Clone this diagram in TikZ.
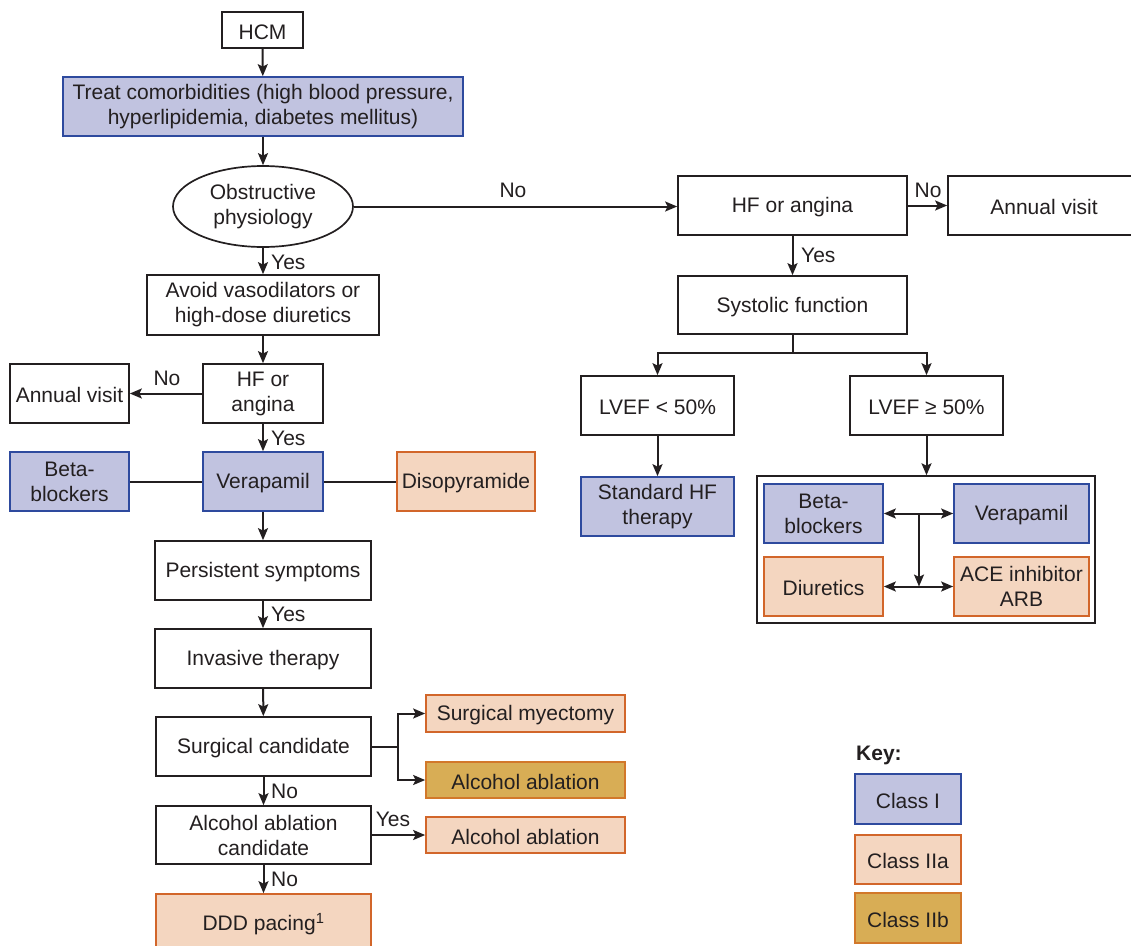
\documentclass[tikz,border=0pt]{standalone}
\usepackage{fontspec}
\setmainfont{Liberation Sans}
\usetikzlibrary{arrows.meta,shapes.geometric}

\definecolor{ink}{HTML}{231F20}
\definecolor{cIfill}{HTML}{C1C3E0}
\definecolor{cIline}{HTML}{2E4A9E}
\definecolor{cIIafill}{HTML}{F4D6C0}
\definecolor{cIIaline}{HTML}{D2662A}
\definecolor{cIIbfill}{HTML}{D8AD55}
\definecolor{cIIbline}{HTML}{D2782A}

\tikzset{
  every node/.style={font=\fontsize{21}{25}\selectfont, text=ink},
  wh/.style 2 args={minimum width=#1, minimum height=#2},
  box/.style={draw=ink, line width=1.7pt, fill=white, align=center, inner sep=0pt,
              execute at begin node={\rule{0pt}{19pt}}},
  classI/.style={box, fill=cIfill, draw=cIline},
  classIIa/.style={box, fill=cIIafill, draw=cIIaline},
  classIIb/.style={box, fill=cIIbfill, draw=cIIbline},
  oval/.style={box, ellipse},
  tip/.tip={Stealth[length=12pt,width=10pt,inset=2.5pt]},
  conn/.style={draw=ink, line width=2pt},
  arr/.style={conn, -tip},
  darr/.style={conn, tip-tip},
  lbl/.style={inner sep=0pt},
}

\begin{document}
\begin{tikzpicture}[x=1pt, y=-1pt]
\useasboundingbox (0,0) rectangle (1131,945);

% ---- left column: main pathway ----
\node[box, wh={81}{36}]    (hcm)   at (262.5,30)  {HCM};
\node[classI, wh={400}{59}] (treat) at (263,106.5) {Treat comorbidities (high blood pressure,\\hyperlipidemia, diabetes mellitus)};
\node[oval, wh={180}{81}]  (obs)   at (263,206.5) {Obstructive\\physiology};
\node[box, wh={232}{60}]   (avoid) at (263,305)   {Avoid vasodilators or\\high-dose diuretics};
\node[box, wh={120}{59}]   (hfl)   at (263,393.5) {HF or\\angina};
\node[box, wh={119}{59}]   (annl)  at (69.5,393.5) {Annual visit};
\node[classI, wh={119}{59}] (betal) at (69.5,481.5) {Beta-\\blockers};
\node[classI, wh={120}{59}] (veral) at (263,481.5) {Verapamil};
\node[classIIa, wh={138}{59}] (diso) at (466,481.5) {Disopyramide};
\node[box, wh={216}{59}]   (pers)  at (263,570.5) {Persistent symptoms};
\node[box, wh={216}{59}]   (inv)   at (263,658.5) {Invasive therapy};
\node[box, wh={215}{59}]   (surg)  at (263.5,746.5) {Surgical candidate};
\node[box, wh={215}{58}]   (alcc)  at (263.5,835) {Alcohol ablation\\candidate};
\node[classIIa, wh={215}{59}] (ddd) at (263.5,923.5) {DDD pacing\textsuperscript{1}};
\node[classIIa, wh={199}{37}] (myec) at (525.5,713.5) {Surgical myectomy};
\node[classIIb, wh={199}{36}] (alcb) at (525.5,780) {Alcohol ablation};
\node[classIIa, wh={199}{36}] (alca) at (525.5,835) {Alcohol ablation};

% ---- right column: non-obstructive pathway ----
\node[box, wh={229}{59}]   (hfr)   at (792.5,205.5) {HF or angina};
\node[box, wh={192}{59}]   (annr)  at (1044,205.5) {Annual visit};
\node[box, wh={229}{58}]   (sys)   at (792.5,305) {Systolic function};
\node[box, wh={153}{59}]   (lv1)   at (657.5,405.5) {LVEF < 50\%};
\node[box, wh={153}{59}]   (lv2)   at (926.5,405.5) {LVEF ≥ 50\%};
\node[classI, wh={153}{59}] (std)  at (657.5,506.5) {Standard HF\\therapy};
\node[box, wh={338}{147}, fill=none, line width=1.5pt] (grp) at (926,549.5) {};
\node[classI, wh={119}{59}] (bb)   at (823.5,513.5) {Beta-\\blockers};
\node[classI, wh={135}{59}] (vr)   at (1021.5,513.5) {Verapamil};
\node[classIIa, wh={119}{59}] (di) at (823.5,586.5) {Diuretics};
\node[classIIa, wh={135}{59}] (ace) at (1021.5,586.5) {ACE inhibitor\\ARB};

% ---- key ----
\node[lbl, anchor=west, font=\fontsize{21}{25}\selectfont\bfseries] (key) at (856,755) {Key:};
\node[classI, wh={106}{50}]   (k1) at (908,799)   {Class I};
\node[classIIa, wh={106}{49}] (k2) at (908,859.5) {Class IIa};
\node[classIIb, wh={106}{50}] (k3) at (908,918)   {Class IIb};

% ---- branch points ----
\coordinate (sb) at (398,746.5);
\coordinate (j1) at (919,513.5);
\coordinate (j2) at (919,586.5);

% ---- connectors, left column ----
\draw[arr] (hcm) -- (treat);
\draw[arr] (treat) -- (obs);
\draw[arr] (obs) -- (avoid);
\draw[arr] (obs.east) -- (obs.east -| hfr.west);
\draw[arr] (avoid) -- (hfl);
\draw[arr] (hfl) -- (annl);
\draw[arr] (hfl) -- (veral);
\draw[conn] (betal) -- (veral);
\draw[conn] (veral) -- (diso);
\draw[arr] (veral) -- (pers);
\draw[arr] (pers) -- (inv);
\draw[arr] (inv) -- (surg);
\draw[conn] (surg.east) -- (sb);
\draw[arr] (sb) |- (myec.west);
\draw[arr] (sb) |- (alcb.west);
\draw[arr] (surg) -- (alcc);
\draw[arr] (alcc.east) -- (alca.west);
\draw[arr] (alcc) -- (ddd);

% ---- connectors, right column ----
\draw[arr] (hfr) -- (annr);
\draw[arr] (hfr) -- (sys);
\draw[arr] (sys.south) -- ++(0,18) -| (lv1.north);
\draw[arr] (sys.south) -- ++(0,18) -| (lv2.north);
\draw[arr] (lv1) -- (std);
\draw[arr] (lv2.south) -- (lv2.south |- grp.north);
\draw[darr] (bb.east) -- (vr.west);
\draw[arr] (j1) -- (j2);
\draw[darr] (di.east) -- (ace.west);

% ---- branch labels ----
\node[lbl, anchor=west] (y1) at (271,262) {Yes};
\node[lbl] (n1) at (513,190) {No};
\node[lbl] (n2) at (167,378) {No};
\node[lbl, anchor=west] (y2) at (271,438) {Yes};
\node[lbl, anchor=west] (y3) at (271,614) {Yes};
\node[lbl, anchor=west] (n3) at (271,791) {No};
\node[lbl, anchor=west] (n4) at (271,879) {No};
\node[lbl] (y4) at (393,819) {Yes};
\node[lbl] (n5) at (928,190) {No};
\node[lbl, anchor=west] (y5) at (801,255) {Yes};
\end{tikzpicture}
\end{document}
